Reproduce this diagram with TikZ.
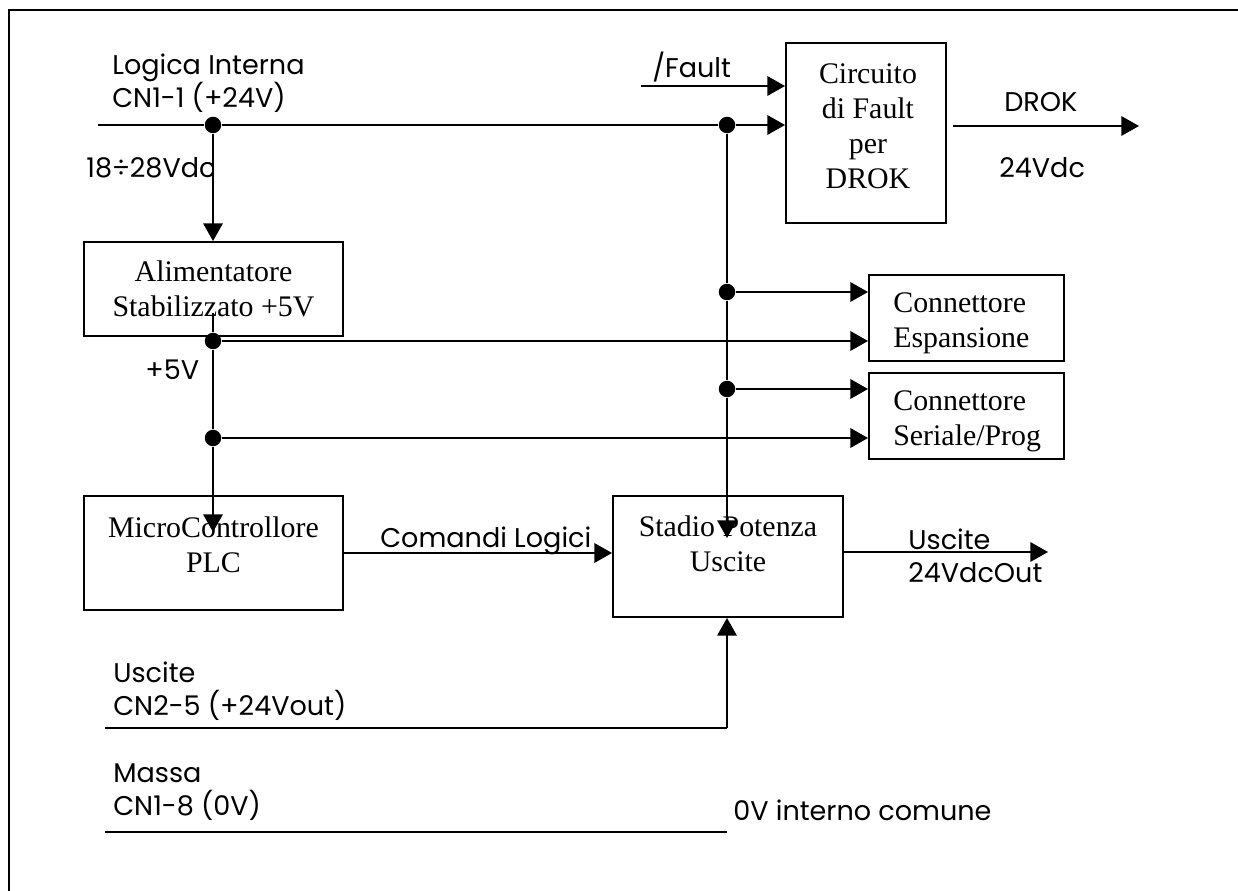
\documentclass[tikz,border=0pt]{standalone}
\usepackage{fontspec}
\setmainfont{Liberation Serif}
\newfontfamily\gothic{Poppins}
\usetikzlibrary{arrows.meta,positioning}

\begin{document}
\begin{tikzpicture}[>={Triangle[length=10pt,width=11pt]},
  wire/.style={line width=1.1pt},
  bus/.style={line width=1.6pt},
  frame/.style={line width=1.6pt},
  blk/.style={draw, line width=1.1pt, inner sep=0pt},
  btxt/.style={font=\fontsize{17}{20}\selectfont, align=center, inner sep=0pt},
  lbl/.style={font=\gothic\fontsize{15.4}{18.8}\selectfont, align=left, inner sep=0pt, anchor=west},
  dot/.style={circle, fill, inner sep=0pt, minimum size=0.33cm}]
\useasboundingbox (0,0) rectangle (24.76,-17.82);
\draw[frame] (0.18,-17.82) -- (0.18,-0.2) -- (24.76,-0.2);

% blocchi
\node[blk, btxt, minimum width=5.18cm, minimum height=1.88cm] (ali) at (4.27,-5.78) {Alimentatore\\Stabilizzato +5V};
\node[blk, minimum width=5.18cm, minimum height=2.28cm] (mc) at (4.27,-11.06) {};
\node[btxt] (mcT) at (4.27,-10.89) {MicroControllore\\PLC};
\node[blk, minimum width=4.6cm, minimum height=2.42cm] (st) at (14.56,-11.13) {};
\node[btxt] (stT) at (14.56,-10.87) {Stadio Potenza\\Uscite};
\node[blk, minimum width=3.2cm, minimum height=3.6cm] (fault) at (17.32,-2.66) {};
\node[btxt] (faultT) at (17.36,-2.53) {Circuito\\di Fault\\per\\DROK};
\node[blk, minimum width=3.9cm, minimum height=1.72cm] (esp) at (19.33,-6.36) {};
\node[btxt, align=left, anchor=west] (espT) at (17.86,-6.47) {Connettore\\Espansione};
\node[blk, minimum width=3.9cm, minimum height=1.72cm] (ser) at (19.33,-8.32) {};
\node[btxt, align=left, anchor=west] (serT) at (17.86,-8.43) {Connettore\\Seriale/Prog};

% etichette
\node[lbl] (logica) at (2.24,-1.67) {Logica Interna\\CN1-1 (+24V)};
\node[lbl] (vin) at (1.72,-3.36) {18÷28Vdc};
\node[lbl] (p5) at (2.9,-7.4) {+5V};
\node[lbl] (fltl) at (13.04,-1.34) {/Fault};
\node[lbl] (drokl) at (20.08,-2.04) {DROK};
\node[lbl] (vdc) at (19.98,-3.36) {24Vdc};
\node[lbl, anchor=base west] (cmdl) at (7.6,-10.96) {Comandi Logici};
\node[lbl] (outl) at (18.16,-11.12) {Uscite\\24VdcOut};
\node[lbl] (uscl) at (2.26,-13.83) {Uscite\\CN2-5 (+24Vout)};
\node[lbl] (massl) at (2.26,-15.85) {Massa\\CN1-8 (0V)};
\node[lbl] (gndl) at (14.66,-16.2) {0V interno comune};

% nodi di giunzione
\node[dot] (j1) at (4.26,-2.5) {};
\node[dot] (j2) at (14.54,-2.5) {};
\node[dot] (j3) at (4.26,-6.82) {};
\node[dot] (j4) at (4.26,-8.76) {};
\node[dot] (j5) at (14.54,-5.84) {};
\node[dot] (j6) at (14.54,-7.78) {};
\coordinate (in24) at (1.96,-2.5);
\coordinate (fin) at (12.82,-1.72);
\coordinate (drok) at (22.78,-2.52);
\coordinate (aliIn) at (4.26,-6.26);
\coordinate (mcTip) at (4.26,-10.64);
\coordinate (stTip) at (14.54,-10.76);
\coordinate (out) at (20.96,-11.04);
\coordinate (u0) at (2.1,-14.56);
\coordinate (u1) at (14.54,-14.56);
\coordinate (m0) at (2.1,-16.64);
\coordinate (m1) at (14.54,-16.64);

% collegamenti
\draw[wire,->] (in24) -- (j1) -- (j2) -- (fault.west |- j2);
\draw[wire,->] (fin) -- (fault.west |- fin);
\draw[wire,->] ([xshift=0.12cm]fault.east |- drok) -- (drok);
\draw[wire,->] (j1) -- (j1 |- ali.north);
\draw[wire,->] (aliIn) -- (j3) -- (j4) -- (mcTip);
\draw[wire,->] (j3) -- (j3 -| esp.west);
\draw[wire,->] (j4) -- (j4 -| ser.west);
\draw[wire,->] (j2) -- (j5) -- (j6) -- (stTip);
\draw[wire,->] (j5) -- (j5 -| esp.west);
\draw[wire,->] (j6) -- (j6 -| ser.west);
\draw[wire,->] (mc.east) -- (mc.east -| st.west);
\draw[wire,->] (st.east |- out) -- (out);
\draw[bus] (u0) -- (u1);
\draw[wire,->] (u1) -- (u1 |- st.south);
\draw[bus] (m0) -- (m1);
\end{tikzpicture}
\end{document}
